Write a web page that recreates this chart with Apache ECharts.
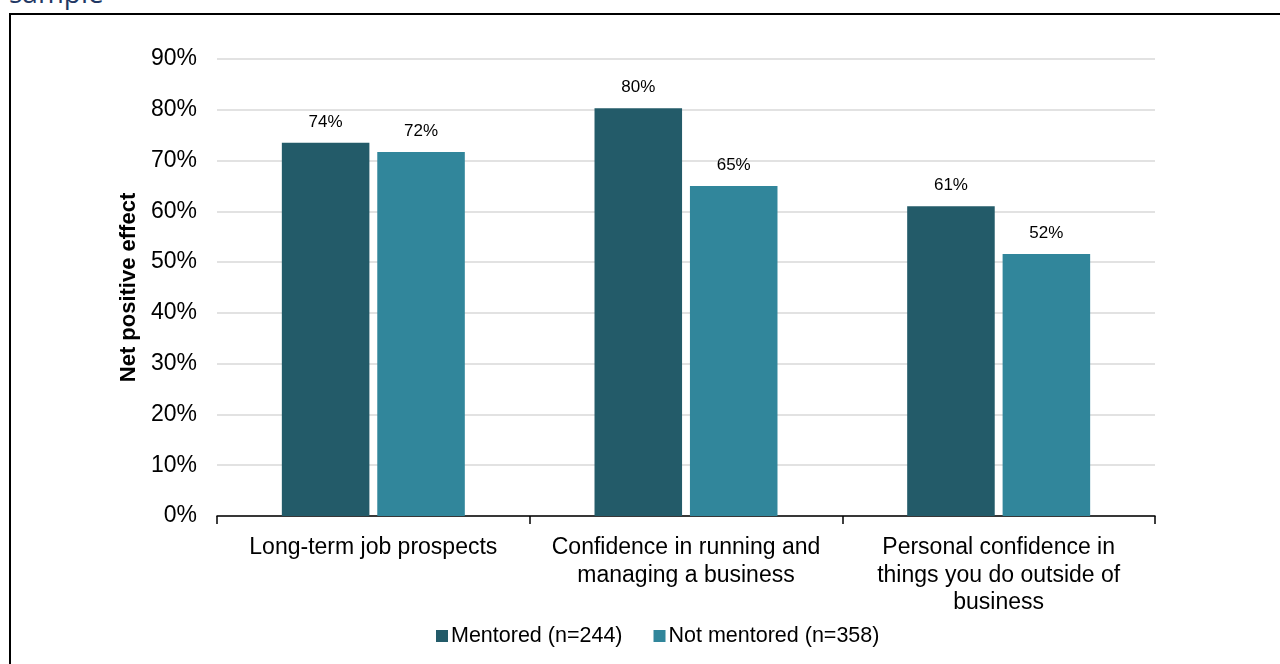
<!DOCTYPE html>
<html><head><meta charset="utf-8">
<script src="https://cdn.jsdelivr.net/npm/echarts@6/dist/echarts.min.js"></script>
<style>
html,body{margin:0;padding:0;background:#fff;overflow:hidden;}
#wrap{position:relative;width:1280px;height:664px;}
#cap{position:absolute;left:9px;top:-27px;font-family:"Open Sans",sans-serif;font-size:28px;line-height:38px;color:#1F3864;}
#box{position:absolute;left:9px;top:13px;width:1300px;height:700px;border:2px solid #000;box-sizing:border-box;}
#chart{position:absolute;left:0;top:0;width:1280px;height:664px;}
</style></head>
<body><div id="wrap"><div id="cap">sample</div><div id="box"></div><div id="chart"></div></div>
<script>
const categories = ["Long-term job prospects", "Confidence in running and\nmanaging a business", "Personal confidence in\nthings you do outside of\nbusiness"];
const mentored = [73.5, 80.3, 61.0];
const notMentored = [71.7, 65.0, 51.6];
const seriesNames = ["Mentored (n=244)", "Not mentored (n=358)"];
const yTicks = [0,10,20,30,40,50,60,70,80,90];

const font = "Liberation Sans, Arial, sans-serif";
const chart = echarts.init(document.getElementById('chart'));
const lbl = {show:true, position:'top', distance:12, color:'#000', fontFamily:font, fontSize:17, formatter:p=>Math.round(p.value)+'%'};
chart.setOption({
  animation:false,
  grid:{left:217, right:125, top:59, bottom:148, containLabel:false},
  legend:{bottom:12, left:431, itemWidth:12, itemHeight:12, itemGap:31, icon:'rect',
    textStyle:{fontFamily:font, fontSize:21.5, color:'#000', padding:[0,0,0,-2]},
    data:seriesNames},
  xAxis:{type:'category', data:categories,
    axisLine:{lineStyle:{color:'#000', width:1.5}},
    axisTick:{show:true, interval:0, length:8, lineStyle:{color:'#000', width:1.5}},
    axisLabel:{interval:0, hideOverlap:false, color:'#000', fontFamily:font, fontSize:23, lineHeight:27.5, margin:18}},
  yAxis:{type:'value', min:0, max:90, interval:10,
    name:'Net positive effect', nameLocation:'middle', nameGap:77,
    nameTextStyle:{fontFamily:font, fontSize:22, fontWeight:'bold', color:'#000'},
    axisLine:{show:false}, axisTick:{show:false},
    axisLabel:{color:'#000', fontFamily:font, fontSize:23, margin:20, formatter:v=>v+'%'},
    splitLine:{lineStyle:{color:'#D9D9D9', width:1.5}}},
  series:[
    {name:seriesNames[0], type:'bar', data:mentored, barWidth:'28%', barGap:'9%', itemStyle:{color:'#235B69'}, label:lbl},
    {name:seriesNames[1], type:'bar', data:notMentored, barWidth:'28%', itemStyle:{color:'#31869B'}, label:lbl}
  ]
});
</script></body></html>
